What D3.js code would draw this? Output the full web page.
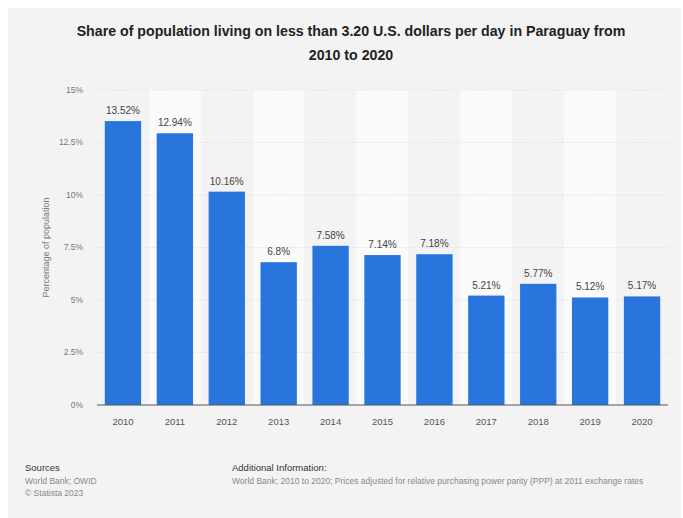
<!DOCTYPE html>
<html>
<head>
<meta charset="utf-8">
<script src="https://cdn.jsdelivr.net/npm/d3@7"></script>
<style>
    body { margin: 0; background: #ffffff; }
    svg { display: block; font-family: "Liberation Sans", Arial, sans-serif; }
</style>
</head>
<body>
<div id="chart"></div>
<script>
var years = ["2010", "2011", "2012", "2013", "2014", "2015", "2016", "2017", "2018", "2019", "2020"];
var shares = [13.52, 12.94, 10.16, 6.8, 7.58, 7.14, 7.18, 5.21, 5.77, 5.12, 5.17];
var valueLabels = ["13.52%", "12.94%", "10.16%", "6.8%", "7.58%", "7.14%", "7.18%", "5.21%", "5.77%", "5.12%", "5.17%"];
var yTicks = [0, 2.5, 5, 7.5, 10, 12.5, 15];
var yTickLabels = ["0%", "2.5%", "5%", "7.5%", "10%", "12.5%", "15%"];

var width = 683,
    height = 518;

var plotLeft = 97, plotRight = 668, plotTop = 90, plotBottom = 405;

var svg = d3.select("#chart")
    .append("svg")
    .attr("width", width)
    .attr("height", height);

// grey card
svg.append("rect")
    .attr("x", 8).attr("y", 8)
    .attr("width", 673).attr("height", 512)
    .attr("fill", "#f3f3f3");

var x = d3.scaleBand()
    .domain(years)
    .range([plotLeft, plotRight])
    .paddingInner(0.3)
    .paddingOuter(0.15);

var y = d3.scaleLinear()
    .domain([0, 15])
    .range([plotBottom, plotTop]);

// alternating column shading
var step = (plotRight - plotLeft) / years.length;
svg.selectAll(".col")
    .data(years)
    .enter().append("rect")
    .attr("class", "col")
    .attr("x", function (d, i) { return plotLeft + i * step; })
    .attr("y", plotTop)
    .attr("width", step)
    .attr("height", plotBottom - plotTop)
    .attr("fill", function (d, i) { return i % 2 === 1 ? "#fafafa" : "#f3f3f3"; });

// grid
svg.selectAll(".grid")
    .data(yTicks.slice(1))
    .enter().append("line")
    .attr("x1", plotLeft).attr("x2", plotRight)
    .attr("y1", function (d) { return y(d); })
    .attr("y2", function (d) { return y(d); })
    .attr("stroke", "#d6d6d6")
    .attr("stroke-width", 0.8)
    .attr("stroke-dasharray", "1,1.5");

// y axis labels
svg.selectAll(".ytick")
    .data(yTicks)
    .enter().append("text")
    .attr("x", 83)
    .attr("y", function (d) { return y(d); })
    .attr("dy", "0.35em")
    .attr("text-anchor", "end")
    .attr("font-size", 8.5)
    .attr("fill", "#777")
    .text(function (d, i) { return yTickLabels[i]; });

svg.append("text")
    .attr("transform", "translate(49," + ((plotTop + plotBottom) / 2) + ") rotate(-90)")
    .attr("text-anchor", "middle")
    .attr("font-size", 9)
    .attr("fill", "#777")
    .text("Percentage of population");

// bars
svg.selectAll(".bar")
    .data(shares)
    .enter().append("rect")
    .attr("class", "bar")
    .attr("x", function (d, i) { return x(years[i]); })
    .attr("y", function (d) { return y(d); })
    .attr("width", x.bandwidth())
    .attr("height", function (d) { return y(0) - y(d); })
    .attr("fill", "#2876dd");

svg.selectAll(".vlabel")
    .data(shares)
    .enter().append("text")
    .attr("x", function (d, i) { return x(years[i]) + x.bandwidth() / 2; })
    .attr("y", function (d) { return y(d) - 7; })
    .attr("text-anchor", "middle")
    .attr("font-size", 10)
    .attr("fill", "#444")
    .text(function (d, i) { return valueLabels[i]; });

// baseline
svg.append("line")
    .attr("x1", plotLeft).attr("x2", plotRight)
    .attr("y1", plotBottom).attr("y2", plotBottom)
    .attr("stroke", "#555")
    .attr("stroke-width", 1);

var xAxis = svg.append("g")
    .attr("transform", "translate(0," + plotBottom + ")")
    .call(d3.axisBottom(x).tickSize(0).tickPadding(13));
xAxis.select(".domain").remove();
xAxis.selectAll("text")
    .attr("font-size", 9.5)
    .attr("font-family", "Liberation Sans, Arial, sans-serif")
    .attr("fill", "#555");

// title
var title = ["Share of population living on less than 3.20 U.S. dollars per day in Paraguay from", "2010 to 2020"];
svg.selectAll(".title")
    .data(title)
    .enter().append("text")
    .attr("x", 351)
    .attr("y", function (d, i) { return 36 + i * 24; })
    .attr("text-anchor", "middle")
    .attr("font-size", 14.2)
    .attr("font-weight", "bold")
    .attr("fill", "#222")
    .text(function (d) { return d; });

// footer
svg.append("text").attr("x", 25).attr("y", 471)
    .attr("font-size", 9.5).attr("fill", "#333").text("Sources");
svg.append("text").attr("x", 25).attr("y", 484)
    .attr("font-size", 8.5).attr("fill", "#888").text("World Bank; OWID");
svg.append("text").attr("x", 25).attr("y", 496)
    .attr("font-size", 8.5).attr("fill", "#888").text("© Statista 2023");
svg.append("text").attr("x", 232).attr("y", 471)
    .attr("font-size", 9.5).attr("fill", "#333").text("Additional Information:");
svg.append("text").attr("x", 232).attr("y", 484)
    .attr("font-size", 8.5).attr("fill", "#888")
    .text("World Bank; 2010 to 2020; Prices adjusted for relative purchasing power parity (PPP) at 2011 exchange rates");
</script>
</body>
</html>
